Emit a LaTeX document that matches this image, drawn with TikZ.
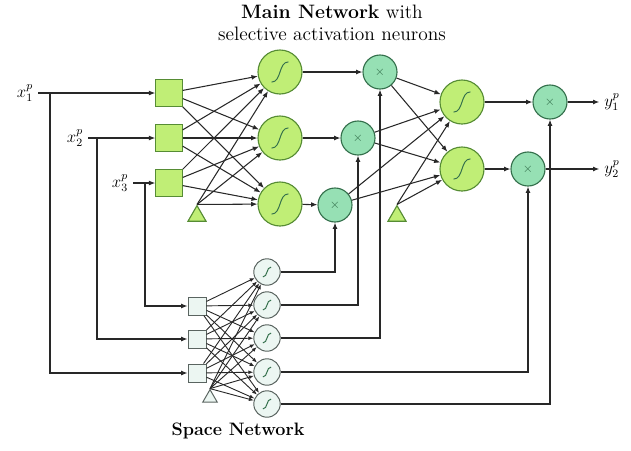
\documentclass[tikz,border=0pt]{standalone}
\usepackage{amsmath}
\usepackage{tikz}
\usetikzlibrary{shapes.geometric, arrows.meta, positioning, calc}
\definecolor{cLime}{RGB}{192,238,118}
\definecolor{cLeaf}{RGB}{86,140,52}
\definecolor{cMint}{RGB}{150,224,180}
\definecolor{cPine}{RGB}{52,112,76}
\definecolor{cFog}{RGB}{236,246,242}
\definecolor{cSlate}{RGB}{90,100,96}
\definecolor{cInk}{RGB}{40,40,40}
\tikzset{
  link/.style={-{Latex[length=4.5pt,width=3.5pt]}, line width=0.75pt, draw=cInk},
  thin link/.style={-{Latex[length=3.5pt,width=2.8pt]}, line width=0.65pt, draw=cInk},
  sigcurve/.style={path picture={\draw[cPine, line width=0.7pt, x=#1, y=#1]
      ($(path picture bounding box.center)+(-1.5,-1.8)$) .. controls +(1.8,0) and +(-1.8,0) ..
      ($(path picture bounding box.center)+(1.5,1.8)$);}},
  insq/.style={draw=cLeaf, fill=cLime, line width=0.8pt, minimum size=0.66cm, inner sep=0pt},
  sigbig/.style={circle, draw=cLeaf, fill=cLime, line width=0.8pt, minimum size=1.1cm, inner sep=0pt, sigcurve=0.14cm},
  prod/.style={circle, draw=cPine, fill=cMint, line width=0.8pt, minimum size=0.85cm, inner sep=0pt, text=cPine, font=\small},
  bias/.style={regular polygon, regular polygon sides=3, draw=cLeaf, fill=cLime, line width=0.8pt, minimum size=0.52cm, inner sep=0pt},
  spsq/.style={draw=cSlate, fill=cFog, line width=0.7pt, minimum size=0.45cm, inner sep=0pt},
  spsig/.style={circle, draw=cSlate, fill=cFog, line width=0.7pt, minimum size=0.66cm, inner sep=0pt, sigcurve=0.068cm},
  spbias/.style={regular polygon, regular polygon sides=3, draw=cSlate, fill=cFog, line width=0.7pt, minimum size=0.42cm, inner sep=0pt}
}
\begin{document}
\begin{tikzpicture}[x=0.025cm, y=-0.025cm, font=\large]
\useasboundingbox (0,0) rectangle (631,450);
\node[align=center, font=\fontsize{13.8}{16}\selectfont] (title) at (332,23) {\textbf{Main Network} with\\selective activation neurons};
\node (x1) at (25,93) {$x_1^p$};
\node (x2) at (75,138) {$x_2^p$};
\node (x3) at (120,183) {$x_3^p$};
\coordinate (j1) at (50,93);
\coordinate (j2) at (97,138);
\coordinate (j3) at (145,183);
\node[insq] (i1) at (169,93) {};
\node[insq] (i2) at (169,138) {};
\node[insq] (i3) at (169,183) {};
\node[bias] (b1) at (197,216) {};
\node[sigbig] (h1) at (280,72) {};
\node[sigbig] (h2) at (280,138) {};
\node[sigbig] (h3) at (280,204) {};
\node[prod] (p1) at (380,72) {$\times$};
\node[prod] (p2) at (358,138) {$\times$};
\node[prod] (p3) at (335,205) {$\times$};
\node[sigbig] (o1) at (462,102) {};
\node[sigbig] (o2) at (462,169) {};
\node[bias] (b2) at (397,216) {};
\node[prod] (q1) at (550,102) {$\times$};
\node[prod] (q2) at (528,169) {$\times$};
\node (y1) at (612,102) {$y_1^p$};
\node (y2) at (612,169) {$y_2^p$};
\node[spsq] (s1) at (197,306) {};
\node[spsq] (s2) at (197,339) {};
\node[spsq] (s3) at (197,373) {};
\node[spbias] (c0) at (210,398) {};
\foreach \n/\y in {1/272,2/305,3/338,4/372,5/404}
  \node[spsig] (t\n) at (267,\y) {};
\node[font=\fontsize{12.8}{15}\selectfont\bfseries] (space) at (238,431) {Space Network};
\foreach \a/\b in {x1/i1,x2/i2,x3/i3,h1/p1,h2/p2,h3/p3,o1/q1,o2/q2,q1/y1,q2/y2}
  \draw[link] (\a) -- (\b);
\foreach \a/\b in {j1/s3,j2/s2,j3/s1}
  \draw[link] (\a) |- (\b);
\foreach \a in {i1,i2,i3,b1.corner 1}
  \foreach \b in {h1,h2,h3}
    \draw[link] (\a) -- (\b);
\foreach \a in {p1,p2,p3,b2.corner 1}
  \foreach \b in {o1,o2}
    \draw[link] (\a) -- (\b);
\foreach \a in {s1,s2,s3,c0.corner 1}
  \foreach \b in {t1,t2,t3,t4,t5}
    \draw[thin link] (\a) -- (\b);
\foreach \a/\b in {t1/p3,t2/p2,t3/p1,t4/q2,t5/q1}
  \draw[link] (\a) -| (\b);
\end{tikzpicture}
\end{document}
